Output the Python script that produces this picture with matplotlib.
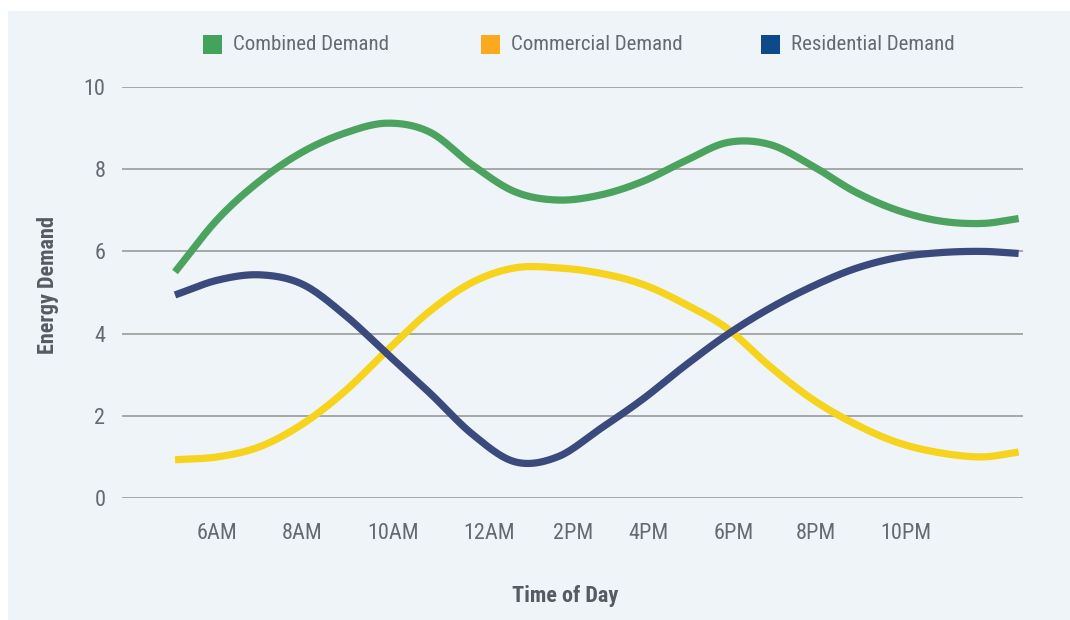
import numpy as np
import matplotlib
matplotlib.use("Agg")
import matplotlib.pyplot as plt
from matplotlib import font_manager
from matplotlib.patches import Rectangle

# ---- data ----
hours = [5, 6, 7, 8, 9, 10, 11, 12, 13, 14, 15, 16, 17, 18, 19, 20, 21, 22, 23, 24, 24.85]
combined = [5.5, 6.78, 7.72, 8.42, 8.88, 9.12, 8.9, 8.1, 7.45, 7.25, 7.37, 7.7, 8.2, 8.65, 8.6,
            8.08, 7.45, 7.0, 6.74, 6.68, 6.8]
commercial = [0.93, 1.0, 1.25, 1.8, 2.6, 3.6, 4.55, 5.25, 5.6, 5.6, 5.47, 5.2, 4.72, 4.12, 3.2,
              2.4, 1.8, 1.35, 1.1, 1.0, 1.12]
residential = [4.94, 5.3, 5.43, 5.2, 4.45, 3.5, 2.55, 1.55, 0.88, 1.0, 1.68, 2.4, 3.22, 3.98, 4.62,
               5.15, 5.58, 5.85, 5.97, 6.0, 5.95]
series_names = ["Combined Demand", "Commercial Demand", "Residential Demand"]
tick_positions = [6.0, 7.98, 10.14, 12.38, 14.36, 16.15, 18.15, 20.08, 22.2]
tick_labels = ["6AM", "8AM", "10AM", "12AM", "2PM", "4PM", "6PM", "8PM", "10PM"]
y_ticks = [0, 2, 4, 6, 8, 10]

line_colors = ["#4ca35f", "#f6d31c", "#3b4a7c"]
legend_colors = ["#43a35a", "#fba91e", "#0e4a8a"]

# ---- fonts ----
avail = {f.name for f in font_manager.fontManager.ttflist}
fam = "Roboto Condensed" if "Roboto Condensed" in avail else (
    "Liberation Sans Narrow" if "Liberation Sans Narrow" in avail else "Roboto")
plt.rcParams["font.family"] = [fam, "DejaVu Sans"]

text_color = "#636a72"
title_color = "#555b62"


def smooth(x, y, n=24):
    x = np.asarray(x, float)
    y = np.asarray(y, float)
    m = np.zeros_like(y)
    m[1:-1] = (y[2:] - y[:-2]) / (x[2:] - x[:-2])
    m[0] = (y[1] - y[0]) / (x[1] - x[0])
    m[-1] = (y[-1] - y[-2]) / (x[-1] - x[-2])
    xs, ys = [], []
    for i in range(len(x) - 1):
        h = x[i + 1] - x[i]
        t = np.linspace(0, 1, n, endpoint=(i == len(x) - 2))
        h00 = 2 * t**3 - 3 * t**2 + 1
        h10 = t**3 - 2 * t**2 + t
        h01 = -2 * t**3 + 3 * t**2
        h11 = t**3 - t**2
        xs.append(x[i] + t * h)
        ys.append(h00 * y[i] + h10 * h * m[i] + h01 * y[i + 1] + h11 * h * m[i + 1])
    return np.concatenate(xs), np.concatenate(ys)


W, H = 1070, 620
fig = plt.figure(figsize=(W / 100, H / 100), dpi=100)
fig.patch.set_facecolor("white")
bg = Rectangle((8 / W, 0), 1 - 8 / W, 1 - 11 / H, transform=fig.transFigure,
               facecolor="#eff4f8", edgecolor="none", zorder=-10)
fig.patches.append(bg)

ax = fig.add_axes([122 / W, 1 - 498 / H, (1023 - 122) / W, (498 - 87) / H])
ax.set_zorder(1)
ax.set_facecolor("none")

px_per_hour = 42.5
x_left = 5 - (175 - 122) / px_per_hour
x_right = x_left + (1023 - 122) / px_per_hour
ax.set_xlim(x_left, x_right)
ax.set_ylim(0, 10)

for vals, c in zip([combined, commercial, residential], line_colors):
    sx, sy = smooth(hours, vals)
    ax.plot(sx, sy, color=c, lw=5.2, solid_capstyle="butt", zorder=3, clip_on=False)

ax.set_yticks(y_ticks)
ax.set_yticklabels([str(v) for v in y_ticks])
ax.set_xticks(tick_positions)
ax.set_xticklabels(tick_labels)
ax.grid(axis="y", color="#9a9a9a", lw=1.2)
ax.grid(axis="x", visible=False)
for s in ax.spines.values():
    s.set_visible(False)
ax.tick_params(axis="both", length=0, colors=text_color, labelsize=16)
ax.tick_params(axis="y", pad=12)
ax.tick_params(axis="x", pad=18)

fig.text(48 / W, 1 - 285 / H, "Energy Demand", rotation=90, ha="center", va="center",
         fontsize=16, fontweight="bold", color=title_color)
fig.text(565 / W, 1 - 596 / H, "Time of Day", ha="center", va="center",
         fontsize=16, fontweight="bold", color=title_color)

# legend
sq_x = [203, 481, 761]
for name, c, x0 in zip(series_names, legend_colors, sq_x):
    fig.patches.append(Rectangle((x0 / W, 1 - 54 / H), 19 / W, 19 / H, transform=fig.transFigure,
                                 facecolor=c, edgecolor="none"))
    fig.text((x0 + 30) / W, 1 - 44 / H, name, ha="left", va="center", fontsize=15,
             color=text_color)

fig.savefig("out.png", dpi=100)
